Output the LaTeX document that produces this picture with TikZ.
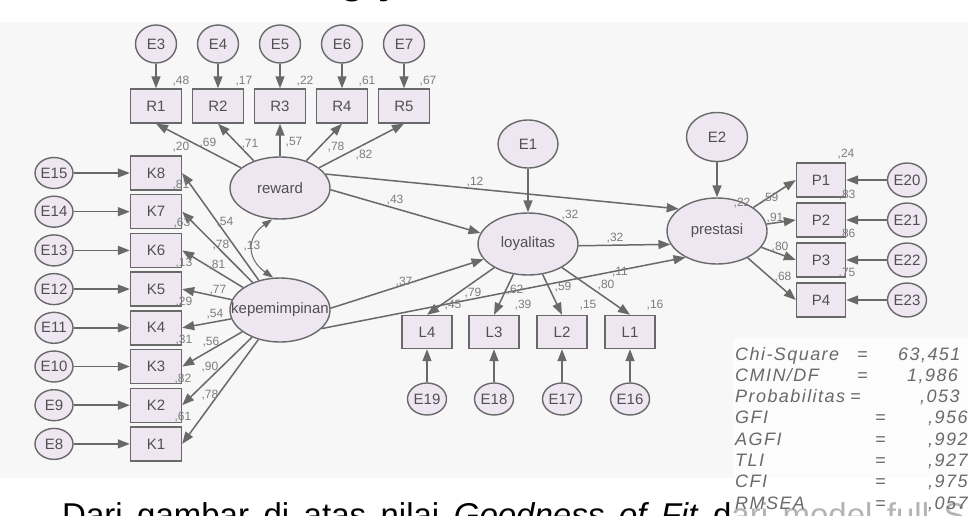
\documentclass[tikz,border=0pt]{standalone}
\usepackage{fontspec}
\setmainfont{Liberation Sans}
\newfontfamily\statfont[LetterSpace=8]{Liberation Sans}
\usetikzlibrary{shapes.geometric,arrows.meta}
\definecolor{nodefill}{RGB}{238,231,242}
\definecolor{edgegray}{RGB}{105,105,105}
\definecolor{txtgray}{RGB}{80,80,80}
\definecolor{estgray}{RGB}{125,125,125}
\definecolor{panel}{RGB}{247,247,247}
\definecolor{statgray}{RGB}{105,105,105}
\tikzset{
  obs/.style={draw=edgegray, line width=1.4pt, fill=nodefill, minimum width=51pt,
    minimum height=34pt, inner sep=0pt, text=txtgray, font=\fontsize{15}{17}\selectfont},
  lat/.style={ellipse, draw=edgegray, line width=1.4pt, fill=nodefill, minimum width=100pt,
    minimum height=62pt, inner sep=0pt, text=txtgray, font=\fontsize{15}{17}\selectfont},
  errtop/.style={lat, minimum width=41pt, minimum height=38pt},
  errleft/.style={lat, minimum width=38pt, minimum height=31pt},
  errbot/.style={lat, minimum width=39pt, minimum height=32pt},
  errright/.style={lat, minimum width=39pt, minimum height=34pt},
  arr/.style={draw=edgegray, line width=1.5pt, -{Triangle[length=12pt,width=9pt]}},
  cov/.style={draw=edgegray, line width=1pt,
    {Triangle[length=10pt,width=7pt]}-{Triangle[length=10pt,width=7pt]}},
  est/.style={text=estgray, font=\fontsize{12}{14}\selectfont, inner sep=0pt},
  stat/.style={text=statgray, font=\statfont\itshape\fontsize{18}{20}\selectfont,
    inner sep=0pt, anchor=base west},
  headfrag/.style={anchor=base, inner sep=0pt, font=\bfseries\fontsize{40}{46}\selectfont},
}
\newcommand\lbl[3]{\node[est] (#1) at (#2) {#3};}
\begin{document}
\begin{tikzpicture}[x=1pt,y=-1pt]
\useasboundingbox (0,0) rectangle (968,516);
\clip (0,0) rectangle (968,516);
\fill[white] (0,0) rectangle (968,516);
\fill[panel] (0,22) rectangle (968,478);

% heading above the figure (only its lower part is on the page)
\node[headfrag] (hg) at (353,-6) {g};
\node[headfrag] (hy) at (390,-6) {y};

% latent variables
\node[lat] (reward) at (280,188) {\makebox[0pt]{reward}};
\node[lat, minimum height=64pt] (kep) at (280,310) {\makebox[0pt]{kepemimpinan}};
\node[lat] (loy) at (528,244) {\makebox[0pt]{loyalitas}};
\node[lat, minimum height=66pt] (pres) at (717,231) {\makebox[0pt]{prestasi}};
\node[lat, minimum width=60pt, minimum height=48pt] (E1) at (528,144) {\makebox[0pt]{E1}};
\node[lat, minimum width=61pt, minimum height=49pt] (E2) at (717,137) {\makebox[0pt]{E2}};

% reward indicators
\foreach \i/\x [count=\n from 3] in {1/156,2/218,3/280,4/342,5/404}{
  \node[obs] (R\i) at (\x,106) {R\i};
  \node[errtop] (E\n) at (\x,44) {\makebox[0pt]{E\n}};
  \draw[arr] (E\n) -- (R\i);
  \draw[arr] (reward) -- (R\i.south);
}

% kepemimpinan indicators
\foreach \k/\e [count=\j from 0] in {8/15,7/14,6/13,5/12,4/11,3/10,2/9,1/8}{
  \node[obs] (K\k) at (156,{173+38.7*\j}) {K\k};
  \node[errleft] (E\e) at (54,{173+38.7*\j}) {\makebox[0pt]{E\e}};
  \draw[arr] (E\e) -- (K\k);
  \draw[arr] (kep) -- (K\k.east);
}

% loyalitas indicators
\foreach \l/\x/\e in {4/427/19,3/494/18,2/562/17,1/630/16}{
  \node[obs, minimum width=50pt, minimum height=33pt] (L\l) at (\x,332) {L\l};
  \node[errbot] (E\e) at (\x,399) {\makebox[0pt]{E\e}};
  \draw[arr] (E\e) -- (L\l);
  \draw[arr] (loy) -- (L\l.north);
}

% prestasi indicators
\foreach \p/\e [count=\j from 0] in {1/20,2/21,3/22,4/23}{
  \node[obs, minimum width=49pt] (P\p) at (821,{180+40*\j}) {P\p};
  \node[errright] (E\e) at (907,{180+40*\j}) {\makebox[0pt]{E\e}};
  \draw[arr] (E\e) -- (P\p);
  \draw[arr] (pres) -- (P\p.west);
}

% structural paths
\draw[arr] (E1) -- (loy);
\draw[arr] (E2) -- (pres);
\draw[arr] (reward.-2) -- (loy.167);
\draw[arr] (reward.17) -- (pres.150);
\draw[arr] (kep.2) -- (loy.199);
\draw[arr] (kep.-24) -- (pres.220);
\draw[arr] (loy.-2) -- (pres.196);
\draw[cov] (reward.256) to[out=215,in=145,looseness=1.4] (kep.102);

% estimates: reward block
\lbl{r48}{181,81}{,48}
\lbl{r17}{244,81}{,17}
\lbl{r22}{305,81}{,22}
\lbl{r61}{367,81}{,61}
\lbl{r67}{428,81}{,67}
\lbl{w69}{208,143}{,69}
\lbl{w71}{250,144}{,71}
\lbl{w57}{294,142}{,57}
\lbl{w78}{336,147}{,78}
\lbl{w82}{364,155}{,82}

% estimates: kepemimpinan block
\lbl{k20}{181,147}{,20}
\lbl{k81}{181,185}{,81}
\lbl{k63}{182,223}{,63}
\lbl{k13}{184,263}{,13}
\lbl{k29}{184,302}{,29}
\lbl{k31}{184,340}{,31}
\lbl{k82}{183,379}{,82}
\lbl{k61}{183,417}{,61}
\lbl{q54}{225,222}{,54}
\lbl{q78}{221,245}{,78}
\lbl{q81}{217,265}{,81}
\lbl{q77}{218,290}{,77}
\lbl{q54b}{215,314}{,54}
\lbl{q56}{211,342}{,56}
\lbl{q90}{210,367}{,90}
\lbl{q78b}{210,395}{,78}
\lbl{c13}{252,246}{,13}

% estimates: structural part
\lbl{s43}{395,200}{,43}
\lbl{s12}{475,182}{,12}
\lbl{s37}{404,282}{,37}
\lbl{s11}{620,272}{,11}
\lbl{s32}{615,238}{,32}
\lbl{ly32}{570,215}{,32}
\lbl{pr22}{742,203}{,22}

% estimates: loyalitas block
\lbl{l79}{473,293}{,79}
\lbl{l45}{453,305}{,45}
\lbl{l62}{515,290}{,62}
\lbl{l39}{523,305}{,39}
\lbl{l59}{563,287}{,59}
\lbl{l15}{588,305}{,15}
\lbl{l80}{606,285}{,80}
\lbl{l16}{655,305}{,16}

% estimates: prestasi block
\lbl{p59}{770,198}{,59}
\lbl{p24}{846,154}{,24}
\lbl{p91}{775,218}{,91}
\lbl{p83}{847,195}{,83}
\lbl{p80}{780,247}{,80}
\lbl{p86}{847,234}{,86}
\lbl{p68}{783,277}{,68}
\lbl{p75}{847,273}{,75}

% text line below the figure
\node[anchor=base west, inner sep=0pt, font=\fontsize{33}{38}\selectfont] (body) at (62,526)
  {\makebox[953pt][s]{Dari gambar di atas nilai \textit{Goodness of Fit} dari model full SEM}};

% goodness-of-fit summary
\fill[white, opacity=0.7] (733,338) rectangle (968,516);
\node[stat] (s1a) at (735,360) {Chi-Square};
\node[stat] (s1b) at (857,360) {=};
\node[stat] (s1c) at (898,360) {63,451};
\node[stat] (s2a) at (735,381) {CMIN/DF};
\node[stat] (s2b) at (857,381) {=};
\node[stat] (s2c) at (907,381) {1,986};
\node[stat] (s3a) at (735,402) {Probabilitas};
\node[stat] (s3b) at (850,402) {=};
\node[stat] (s3c) at (920,402) {,053};
\node[stat] (s4a) at (735,423) {GFI};
\node[stat] (s4b) at (875,423) {=};
\node[stat] (s4c) at (928,423) {,956};
\node[stat] (s5a) at (735,445) {AGFI};
\node[stat] (s5b) at (875,445) {=};
\node[stat] (s5c) at (928,445) {,992};
\node[stat] (s6a) at (735,466) {TLI};
\node[stat] (s6b) at (875,466) {=};
\node[stat] (s6c) at (928,466) {,927};
\node[stat] (s7a) at (735,487) {CFI};
\node[stat] (s7b) at (875,487) {=};
\node[stat] (s7c) at (928,487) {,975};
\node[stat] (s8a) at (735,509) {RMSEA};
\node[stat] (s8b) at (875,509) {=};
\node[stat] (s8c) at (928,509) {,057};
\end{tikzpicture}
\end{document}
